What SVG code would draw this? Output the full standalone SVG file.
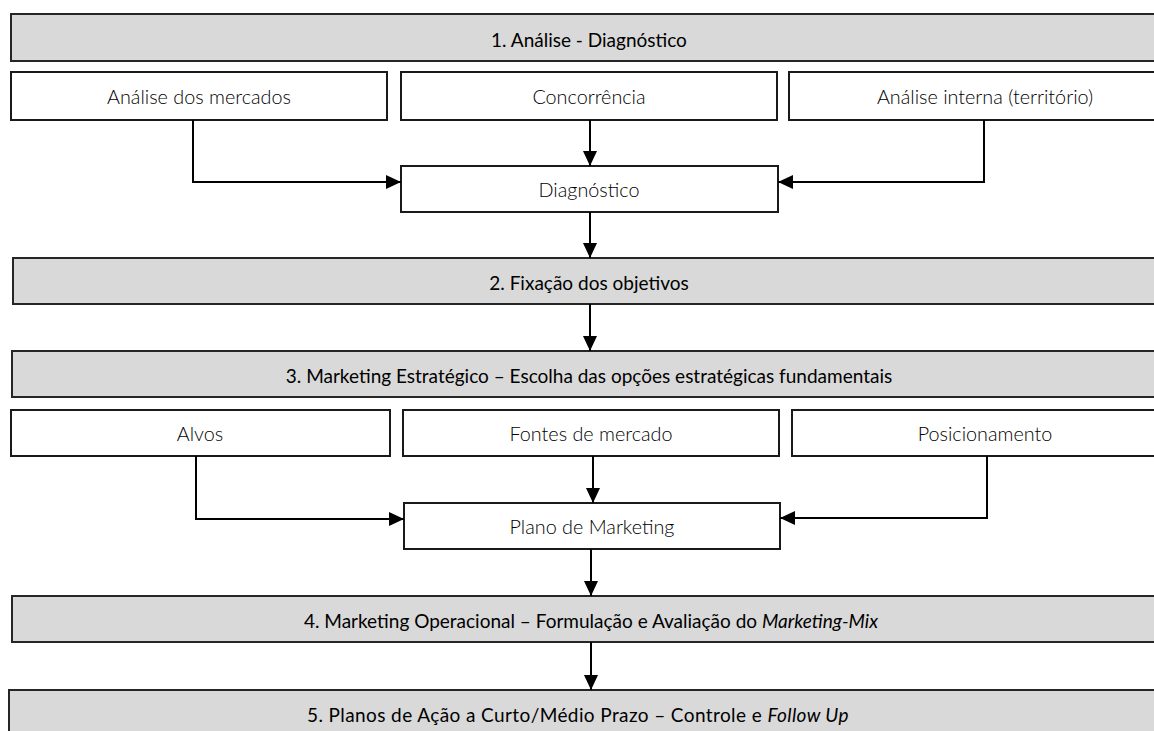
<svg xmlns="http://www.w3.org/2000/svg" width="1154" height="731" viewBox="0 0 1154 731">
  <defs>
    <marker id="arrow" markerUnits="userSpaceOnUse" markerWidth="15" markerHeight="14" refX="15" refY="7" orient="auto">
      <path d="M0,0 L15,7 L0,14 z" fill="#000"/>
    </marker>
    <style>
      .band { fill: #d9d9d9; stroke: #262626; stroke-width: 2; }
      .box { fill: #fff; stroke: #1a1a1a; stroke-width: 2; }
      .band-text { font-family: Lato, "Liberation Sans", sans-serif; font-size: 19px; fill: #000; text-anchor: middle; }
      .box-text { font-family: Lato, "Liberation Sans", sans-serif; font-weight: 300; font-size: 19.8px; fill: #000; text-anchor: middle; }
      .link { fill: none; stroke: #000; stroke-width: 2; marker-end: url(#arrow); }
      .it { font-style: italic; }
    </style>
  </defs>
  <rect width="1154" height="731" fill="#fff"/>

  <!-- stage bands -->
  <g id="stage1">
    <rect class="band" x="11" y="14" width="1160" height="47"/>
    <text class="band-text" x="589" y="47">1. Análise - Diagnóstico</text>
  </g>
  <g id="stage2">
    <rect class="band" x="13" y="258" width="1160" height="46"/>
    <text class="band-text" x="589" y="290">2. Fixação dos objetivos</text>
  </g>
  <g id="stage3">
    <rect class="band" x="12" y="351" width="1160" height="46"/>
    <text class="band-text" x="589" y="383">3. Marketing Estratégico – Escolha das opções estratégicas fundamentais</text>
  </g>
  <g id="stage4">
    <rect class="band" x="12" y="596" width="1160" height="46"/>
    <text class="band-text" x="591" y="628">4. Marketing Operacional – Formulação e Avaliação do <tspan class="it">Marketing-Mix</tspan></text>
  </g>
  <g id="stage5">
    <rect class="band" x="9" y="690" width="1160" height="50"/>
    <text class="band-text" x="578" y="722" letter-spacing="0.4">5. Planos de Ação a Curto/Médio Prazo – Controle e <tspan class="it">Follow Up</tspan></text>
  </g>

  <!-- analysis inputs -->
  <g id="mercados">
    <rect class="box" x="11" y="72" width="376" height="48"/>
    <text class="box-text" x="199" y="104">Análise dos mercados</text>
  </g>
  <g id="concorrencia">
    <rect class="box" x="401" y="72" width="376" height="48"/>
    <text class="box-text" x="589" y="104">Concorrência</text>
  </g>
  <g id="interna">
    <rect class="box" x="789" y="72" width="380" height="48"/>
    <text class="box-text" x="985" y="104">Análise interna (território)</text>
  </g>
  <g id="diagnostico">
    <rect class="box" x="401" y="166" width="377" height="46"/>
    <text class="box-text" x="589" y="197">Diagnóstico</text>
  </g>

  <!-- strategic choices -->
  <g id="alvos">
    <rect class="box" x="11" y="410" width="379" height="46"/>
    <text class="box-text" x="200" y="441">Alvos</text>
  </g>
  <g id="fontes">
    <rect class="box" x="403" y="410" width="376" height="46"/>
    <text class="box-text" x="591" y="441">Fontes de mercado</text>
  </g>
  <g id="posicionamento">
    <rect class="box" x="792" y="410" width="380" height="46"/>
    <text class="box-text" x="985" y="441">Posicionamento</text>
  </g>
  <g id="plano">
    <rect class="box" x="404" y="503" width="376" height="46"/>
    <text class="box-text" x="592" y="534">Plano de Marketing</text>
  </g>

  <!-- connectors -->
  <g id="connectors">
    <path class="link" d="M193,120 V182 H401"/>
    <path class="link" d="M590,120 V166"/>
    <path class="link" d="M984,120 V182 H778"/>
    <path class="link" d="M590,212 V258"/>
    <path class="link" d="M590,304 V351"/>
    <path class="link" d="M196,456 V519 H404"/>
    <path class="link" d="M593,456 V503"/>
    <path class="link" d="M987,456 V518 H780"/>
    <path class="link" d="M591,549 V596"/>
    <path class="link" d="M591,642 V690"/>
  </g>
</svg>
